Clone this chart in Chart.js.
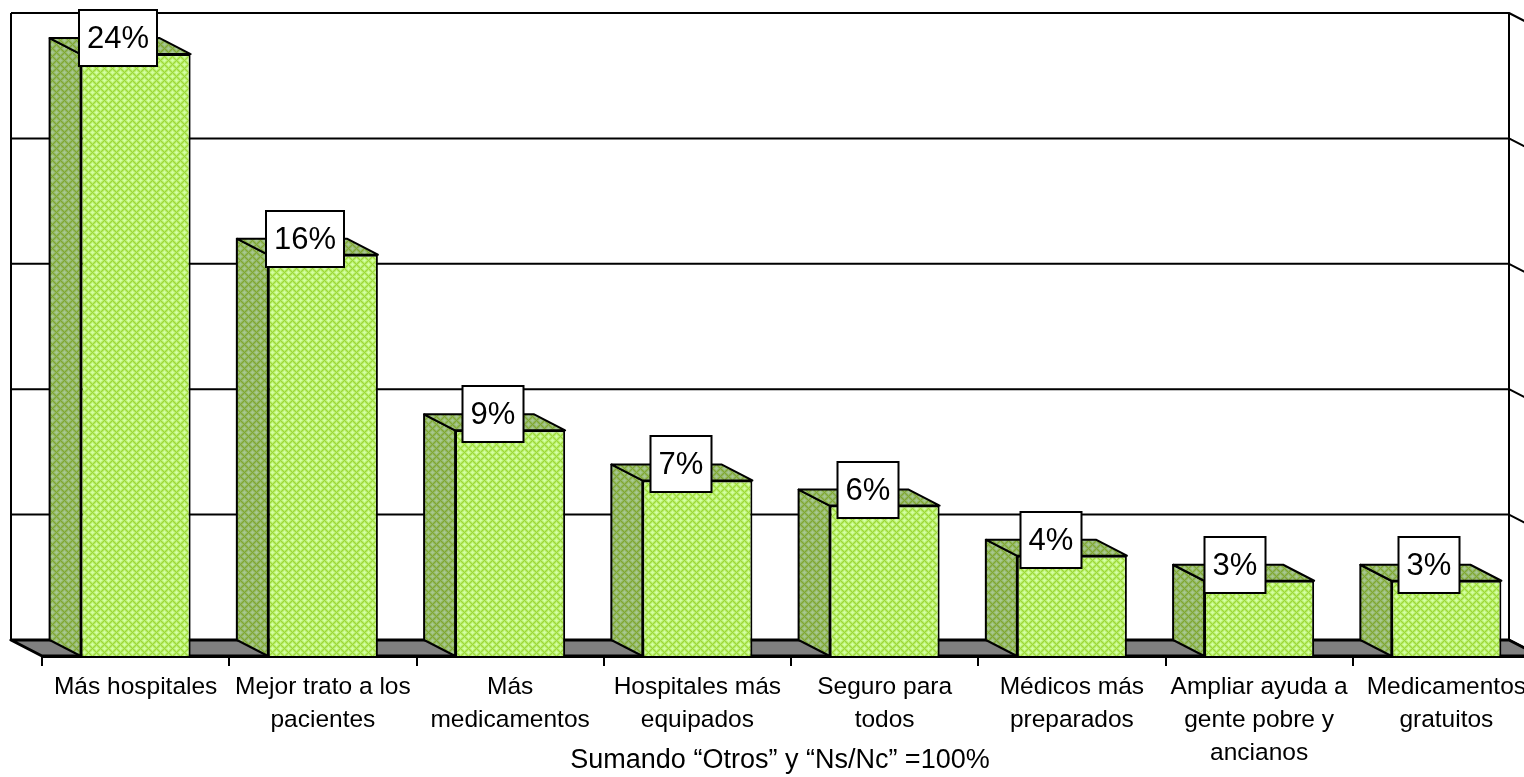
<!DOCTYPE html>
<html lang="es">
<head>
<meta charset="utf-8">
<title>Sumando Otros y Ns/Nc</title>
<style>
  html, body { margin: 0; padding: 0; background: #fff; overflow: hidden; }
  canvas { display: block; }
</style>
</head>
<body>
<!-- the last category runs past the window edge, as in the original -->
<canvas id="chart" width="1540" height="777"></canvas>
<script src="https://cdn.jsdelivr.net/npm/chart.js@4/dist/chart.umd.min.js"></script>
<script>
const categories = [
  ["Más hospitales"],
  ["Mejor trato a los", "pacientes"],
  ["Más", "medicamentos"],
  ["Hospitales más", "equipados"],
  ["Seguro para", "todos"],
  ["Médicos más", "preparados"],
  ["Ampliar ayuda a", "gente pobre y", "ancianos"],
  ["Medicamentos", "gratuitos"],
];
const percentages = [24, 16, 9, 7, 6, 4, 3, 3];
const axisMax = 25;
const axisStep = 5;
const footnote = "Sumando “Otros” y “Ns/Nc” =100%";

// the labels were moved by hand in the original, so they are not all centred alike
const labelNudgeX = [0, 0, 1, 2, 1, -3, -6, 1];

const depthX = 31;
const depthY = 16;
const fontName = '"Liberation Sans", Arial, sans-serif';

// small diamond texture used for the bar faces, shades run from spot to lattice
function makePattern(shades) {
  const tile = document.createElement("canvas");
  tile.width = 8;
  tile.height = 8;
  const t = tile.getContext("2d");
  const spots = [[0, 0], [8, 0], [0, 8], [8, 8], [4, 4]];
  for (let y = 0; y < 8; y++) {
    for (let x = 0; x < 8; x++) {
      const d = Math.min(...spots.map((s) => Math.abs(x - s[0]) + Math.abs(y - s[1])));
      t.fillStyle = shades[Math.max(d - 1, 0)];
      t.fillRect(x, y, 1, 1);
    }
  }
  return t.createPattern(tile, "repeat");
}

const ctx = document.getElementById("chart").getContext("2d");
const frontFill = makePattern(["#d4ffa4", "#c4f684", "#b4ea62", "#9cd838"]);
const sideFill = makePattern(["#a8c890", "#9cbf78", "#90b45c", "#80a830"]);

function polygon(c, points, fill) {
  c.beginPath();
  points.forEach((p, i) => (i ? c.lineTo(p[0], p[1]) : c.moveTo(p[0], p[1])));
  c.closePath();
  if (fill) {
    c.fillStyle = fill;
    c.fill();
  }
  c.stroke();
}

// Back wall, floor and the side and top faces of the bars
const depthPlugin = {
  id: "depth",
  beforeDatasetsDraw(chart) {
    const c = chart.ctx;
    const area = chart.chartArea;
    const yScale = chart.scales.y;
    const backLeft = area.left - depthX;
    const backRight = area.right - depthX;
    const backTop = area.top - depthY;
    const backBottom = area.bottom - depthY;

    c.save();
    c.strokeStyle = "#000";
    c.lineWidth = 2;
    c.lineJoin = "round";

    yScale.ticks.forEach((tick) => {
      const y = yScale.getPixelForValue(tick.value);
      c.beginPath();
      c.moveTo(backLeft, y - depthY);
      c.lineTo(backRight, y - depthY);
      c.lineTo(area.right, y);
      c.stroke();
    });

    c.beginPath();
    c.moveTo(backLeft, backBottom);
    c.lineTo(backLeft, backTop);
    c.moveTo(backRight, backTop);
    c.lineTo(backRight, backBottom);
    c.stroke();

    c.lineWidth = 3;
    polygon(c, [
      [backLeft, backBottom],
      [backRight, backBottom],
      [area.right, area.bottom],
      [area.left, area.bottom],
    ], "#808080");

    c.lineWidth = 2;
    chart.getDatasetMeta(0).data.forEach((bar) => {
      const p = bar.getProps(["x", "y", "base", "width"], true);
      const left = p.x - p.width / 2;
      const right = p.x + p.width / 2;
      polygon(c, [
        [left, p.y],
        [left - depthX, p.y - depthY],
        [left - depthX, p.base - depthY],
        [left, p.base],
      ], sideFill);
      polygon(c, [
        [left, p.y],
        [left - depthX, p.y - depthY],
        [right - depthX, p.y - depthY],
        [right, p.y],
      ], sideFill);
    });
    c.restore();
  },
  afterDatasetsDraw(chart) {
    const c = chart.ctx;
    c.save();
    c.font = "31px " + fontName;
    c.textAlign = "center";
    c.textBaseline = "middle";
    chart.getDatasetMeta(0).data.forEach((bar, i) => {
      const p = bar.getProps(["x", "y"], true);
      const text = percentages[i] + "%";
      const w = Math.round(c.measureText(text).width) + 16;
      const cx = Math.round(p.x - 18 + labelNudgeX[i]);
      const cy = Math.round(p.y - 16);
      c.fillStyle = "#fff";
      c.strokeStyle = "#000";
      c.lineWidth = 2;
      c.fillRect(cx - w / 2, cy - 28, w, 56);
      c.strokeRect(cx - w / 2, cy - 28, w, 56);
      c.fillStyle = "#000";
      c.fillText(text, cx, cy + 1);
    });
    c.restore();
  },
  afterDraw(chart) {
    const c = chart.ctx;
    c.save();
    c.font = "27px " + fontName;
    c.fillStyle = "#000";
    c.textAlign = "center";
    c.textBaseline = "middle";
    c.fillText(footnote, 780, 761);
    c.restore();
  },
};

new Chart(ctx, {
  type: "bar",
  data: {
    labels: categories,
    datasets: [
      {
        data: percentages,
        backgroundColor: frontFill,
        borderColor: "#000",
        borderWidth: 2,
        categoryPercentage: 1,
        barPercentage: 0.5876,
      },
    ],
  },
  options: {
    responsive: false,
    animation: false,
    layout: { padding: { left: 42, top: 29, right: 0, bottom: 0 } },
    plugins: {
      legend: { display: false },
      tooltip: { enabled: false },
    },
    scales: {
      x: {
        afterFit(scale) {
          scale.height = 121;
        },
        grid: {
          drawOnChartArea: false,
          color: "#000",
          lineWidth: 2,
          tickLength: 10,
        },
        border: { color: "#000", width: 3 },
        ticks: {
          autoSkip: false,
          maxRotation: 0,
          minRotation: 0,
          padding: 5,
          color: "#000",
          font: { family: fontName, size: 24.5, lineHeight: 1.35 },
        },
      },
      y: {
        display: false,
        min: 0,
        max: axisMax,
        ticks: { stepSize: axisStep },
      },
    },
  },
  plugins: [depthPlugin],
});
</script>
</body>
</html>
